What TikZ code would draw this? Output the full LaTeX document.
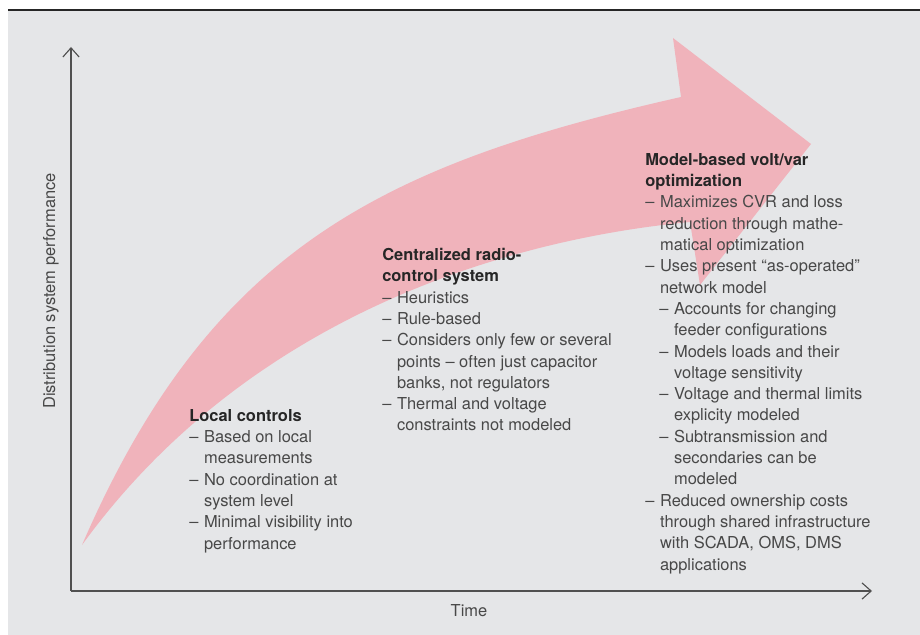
\documentclass[tikz,border=0pt]{standalone}
\usepackage{fontspec}
\setmainfont{TeX Gyre Heros}
\usetikzlibrary{arrows.meta}
\definecolor{panel}{RGB}{229,230,232}
\definecolor{flow}{RGB}{240,179,187}
\definecolor{ink}{RGB}{72,72,72}
\definecolor{headink}{RGB}{38,38,38}
\definecolor{axisgray}{RGB}{80,80,80}
% dashed list lines, one level and two levels deep
\newcommand{\itm}[1]{\makebox[10.5pt][l]{–}#1}
\newcommand{\ctn}[1]{\hspace*{10.5pt}#1}
\newcommand{\subitm}[1]{\hspace*{10pt}\makebox[10.5pt][l]{–}#1}
\newcommand{\subctn}[1]{\hspace*{20.5pt}#1}
\newcommand{\hd}[1]{\textcolor{headink}{\textbf{#1}}}
\begin{document}
\begin{tikzpicture}[x=0.025cm, y=-0.025cm, >={Straight Barb[length=6.5pt,width=11.5pt]},
  blurb/.style={anchor=north west, inner sep=0pt, align=left, text=ink,
    font=\fontsize{11.7}{15.15}\selectfont},
  axislabel/.style={text=ink, font=\fontsize{11.7}{14}\selectfont}]
\useasboundingbox (0,0) rectangle (920,635);
\fill[panel] (8,10) rectangle (920,635);
\draw[line width=1.4pt, headink] (8,10) -- (920,10);

% the growing arrow
\fill[flow] (82,545) .. controls (210,250) and (380,165) .. (681,97)
  -- (673,38) -- (811,144) -- (700,285) -- (690,222)
  .. controls (500,240) and (245,320) .. cycle;

% axes
\coordinate (origin) at (71,591);
\coordinate (ytip) at (71,47);
\coordinate (xtip) at (872,591);
\draw[axisgray, line width=0.8pt, <-] (ytip) -- (origin);
\draw[axisgray, line width=0.8pt, ->] (origin) -- (xtip);
\node[axislabel] (time) at (469,611) {Time};
\node[axislabel, rotate=90] (perf) at (51,291) {Distribution system performance};

% the three stages
\node[blurb] (local) at (189,409) {\hd{Local controls}\\
  \itm{Based on local}\\ \ctn{measurements}\\
  \itm{No coordination at}\\ \ctn{system level}\\
  \itm{Minimal visibility into}\\ \ctn{performance}};
\node[blurb] (radio) at (382,248) {\hd{Centralized radio-}\\ \hd{control system}\\
  \itm{Heuristics}\\
  \itm{Rule-based}\\
  \itm{Considers only few or several}\\ \ctn{points – often just capacitor}\\ \ctn{banks, not regulators}\\
  \itm{Thermal and voltage}\\ \ctn{constraints not modeled}};
\node[blurb] (vvo) at (645,153) {\hd{Model-based volt/var}\\ \hd{optimization}\\
  \itm{Maximizes CVR and loss}\\ \ctn{reduction through mathe-}\\ \ctn{matical optimization}\\
  \itm{Uses present “as-operated”}\\ \ctn{network model}\\
  \subitm{Accounts for changing}\\ \subctn{feeder configurations}\\
  \subitm{Models loads and their}\\ \subctn{voltage sensitivity}\\
  \subitm{Voltage and thermal limits}\\ \subctn{explicity modeled}\\
  \subitm{Subtransmission and}\\ \subctn{secondaries can be}\\ \subctn{modeled}\\
  \itm{Reduced ownership costs}\\ \ctn{through shared infrastructure}\\ \ctn{with SCADA, OMS, DMS}\\ \ctn{applications}};
\end{tikzpicture}
\end{document}
